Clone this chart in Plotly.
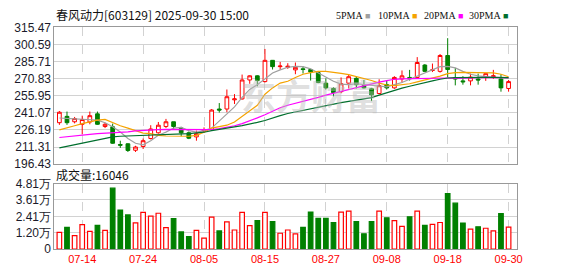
import plotly.graph_objects as go

dates = [
    "2025-07-09", "2025-07-10", "2025-07-11", "2025-07-14", "2025-07-15", "2025-07-16", "2025-07-17", "2025-07-18",
    "2025-07-21", "2025-07-22", "2025-07-23", "2025-07-24", "2025-07-25", "2025-07-28", "2025-07-29", "2025-07-30",
    "2025-07-31", "2025-08-01", "2025-08-04", "2025-08-05", "2025-08-06", "2025-08-07", "2025-08-08", "2025-08-11",
    "2025-08-12", "2025-08-13", "2025-08-14", "2025-08-15", "2025-08-18", "2025-08-19", "2025-08-20", "2025-08-21",
    "2025-08-22", "2025-08-25", "2025-08-26", "2025-08-27", "2025-08-28", "2025-08-29", "2025-09-01", "2025-09-02",
    "2025-09-03", "2025-09-04", "2025-09-05", "2025-09-08", "2025-09-09", "2025-09-10", "2025-09-11", "2025-09-12",
    "2025-09-15", "2025-09-16", "2025-09-17", "2025-09-18", "2025-09-19", "2025-09-22", "2025-09-23", "2025-09-24",
    "2025-09-25", "2025-09-26", "2025-09-29", "2025-09-30",
]

open_ = [232.5, 238.0, 233.3, 231.1, 233.1, 240.2, 229.2, 228.9, 213.5, 214.1,
         208.5, 211.8, 218.7, 223.7, 229.2, 233.3, 227.8, 223.7, 220.1, 225.4,
         226.5, 244.4, 244.4, 252.4, 253.2, 269.7, 273.3, 268.3, 286.8, 281.3,
         280.7, 278.5, 279.4, 278.8, 276.1, 266.9, 262.3, 259.5, 266.9, 271.1,
         264.7, 262.0, 257.9, 265.6, 262.8, 270.6, 271.9, 271.9, 282.7, 278.0,
         277.2, 291.0, 271.6, 268.9, 268.9, 270.6, 272.2, 272.5, 270.6, 262.3]
high = [242.7, 242.2, 237.5, 238.6, 242.2, 242.2, 232.5, 231.7, 216.8, 214.6,
        212.4, 218.7, 230.3, 233.1, 235.8, 233.3, 228.9, 224.8, 225.6, 228.4,
        244.4, 249.6, 261.4, 257.4, 274.4, 273.8, 273.8, 296.7, 287.1, 285.4,
        284.3, 284.9, 281.6, 279.4, 276.6, 271.1, 263.4, 271.9, 274.4, 273.0,
        269.7, 262.8, 270.3, 269.2, 273.0, 278.0, 278.5, 289.6, 283.5, 284.0,
        292.3, 306.1, 280.2, 273.0, 275.2, 275.2, 275.2, 278.5, 274.7, 269.7]
low = [230.6, 230.6, 231.9, 222.3, 231.1, 230.6, 227.8, 214.1, 210.5, 207.0,
       207.0, 209.6, 217.9, 222.9, 227.8, 227.0, 220.7, 218.2, 216.8, 223.7,
       225.6, 241.3, 241.6, 248.8, 252.6, 266.4, 264.2, 267.5, 278.8, 278.8,
       279.4, 274.7, 275.3, 269.2, 266.9, 261.5, 255.4, 258.1, 262.3, 262.3,
       262.3, 251.3, 257.3, 261.5, 262.0, 267.5, 269.2, 271.1, 276.6, 276.6,
       276.1, 271.9, 265.0, 265.6, 265.0, 265.6, 268.9, 270.6, 259.5, 259.5]
close = [241.6, 232.5, 236.1, 235.3, 238.6, 231.1, 231.1, 214.6, 212.9, 208.3,
         211.3, 216.8, 227.0, 230.3, 233.3, 229.2, 223.7, 219.0, 222.9, 226.2,
         243.5, 243.5, 255.1, 253.2, 269.7, 273.3, 269.2, 286.8, 281.3, 281.8,
         281.6, 280.7, 278.8, 276.6, 267.5, 262.8, 258.7, 266.4, 272.5, 265.6,
         262.8, 256.8, 264.7, 262.8, 271.9, 273.3, 270.8, 284.9, 277.2, 278.5,
         291.0, 278.8, 270.6, 268.1, 272.2, 269.7, 275.2, 273.3, 262.8, 268.3]

volume = [12300, 16000, 9800, 17900, 13000, 17400, 13700, 44700, 28600, 25100,
          19300, 27000, 24200, 26300, 15800, 22300, 12600, 9100, 13700, 8100,
          23500, 13300, 20000, 14000, 27000, 17200, 20900, 27000, 20200, 11600,
          14000, 11200, 16000, 27200, 22600, 22600, 19500, 27200, 27900, 20200,
          11200, 20200, 27900, 23000, 20900, 16700, 23700, 27900, 17400, 18100,
          19500, 40700, 33700, 19100, 14700, 16300, 15300, 13300, 26000, 16046]

ma5 = [236.6, 236.0, 235.8, 235.5, 235.3, 234.7, 232.5, 228.9, 224.3, 218.7,
       214.6, 213.2, 216.8, 221.5, 224.3, 227.8, 228.4, 225.6, 224.3, 225.6,
       227.8, 233.9, 240.8, 246.3, 254.6, 261.5, 265.6, 271.1, 275.8, 278.5,
       280.8, 281.6, 281.3, 279.4, 275.8, 271.9, 268.6, 266.1, 265.6, 266.4,
       265.6, 264.8, 264.2, 263.7, 265.6, 267.5, 270.3, 273.0, 276.3, 278.8,
       281.3, 281.6, 280.2, 277.2, 274.7, 273.3, 272.5, 271.9, 271.7, 271.1]
ma10 = [226.2, 227.8, 229.8, 231.7, 233.4, 234.7, 235.3, 232.5, 229.8, 227.8,
        225.6, 223.4, 222.9, 221.5, 220.9, 220.9, 220.7, 220.7, 221.5, 224.2,
        227.8, 228.9, 230.3, 233.1, 238.0, 242.2, 247.7, 257.3, 262.8, 267.0,
        268.6, 271.9, 274.7, 276.1, 277.2, 277.2, 276.6, 275.5, 274.4, 272.8,
        271.1, 269.2, 267.0, 265.3, 264.8, 265.3, 266.4, 268.1, 269.7, 271.4,
        273.0, 275.2, 276.1, 276.3, 276.3, 276.3, 276.1, 275.8, 274.7, 272.5]
ma20 = [219.6, 220.4, 220.9, 221.5, 222.3, 222.9, 223.2, 223.4, 223.7, 224.5,
        225.4, 225.9, 226.2, 226.5, 226.7, 226.7, 226.7, 226.7, 226.7, 226.5,
        226.5, 227.3, 228.4, 229.8, 231.7, 233.9, 236.7, 239.4, 242.7, 245.5,
        247.7, 249.3, 251.0, 252.9, 254.6, 256.5, 258.2, 259.8, 261.5, 263.1,
        264.8, 266.4, 267.8, 269.2, 270.3, 270.6, 270.8, 270.8, 271.1, 271.1,
        271.4, 271.4, 271.1, 271.1, 271.4, 271.7, 271.9, 271.9, 271.9, 271.7]
ma30 = [210.5, 211.8, 213.2, 214.6, 216.0, 217.4, 218.7, 220.1, 220.7, 220.9,
        221.2, 221.5, 221.5, 221.8, 222.0, 222.3, 222.6, 222.9, 223.7, 224.2,
        225.6, 226.5, 227.8, 228.9, 230.0, 231.1, 232.8, 234.4, 236.7, 238.6,
        240.5, 241.9, 243.3, 244.6, 246.0, 247.4, 248.8, 249.9, 251.0, 252.1,
        253.2, 254.3, 256.5, 258.7, 260.9, 262.6, 264.2, 265.9, 267.5, 268.9,
        270.3, 271.4, 271.7, 271.9, 271.9, 271.9, 271.9, 271.9, 271.9, 271.7]

price_ticks = [196.43, 211.31, 226.19, 241.07, 255.95, 270.83, 285.71, 300.59, 315.47]
vol_ticks = [0, 12025, 24050, 36075, 48100]
vol_tick_text = ["0", "1.20万", "2.41万", "3.61万", "4.81万"]
date_ticks = ["2025-07-14", "2025-07-24", "2025-08-05", "2025-08-15",
              "2025-08-27", "2025-09-08", "2025-09-18", "2025-09-30"]
date_tick_text = ["07-14", "07-24", "08-05", "08-15", "08-27", "09-08", "09-18", "09-30"]

title_text = "春风动力[603129] 2025-09-30 15:00"
volume_label = "成交量:16046"
watermark = "东方财富"
ma_names = ["5PMA", "10PMA", "20PMA", "30PMA"]
ma_colors = ["#a0a0a0", "#f5a300", "#ff00ff", "#006f2e"]

RED = "#ff0000"
GREEN = "#008000"
GRID = "#d2d2d2"
FRAME = "#999999"

W, H = 578, 276
L, R = 55, 522
P_TOP, P_BOT = 21.5, 165.5
V_TOP, V_BOT = 186, 255

fig = go.Figure()

fig.add_trace(go.Candlestick(
    x=dates, open=open_, high=high, low=low, close=close,
    increasing=dict(line=dict(color=RED, width=1), fillcolor="#ffffff"),
    decreasing=dict(line=dict(color=GREEN, width=1), fillcolor=GREEN),
    whiskerwidth=0, xaxis="x", yaxis="y", hoverinfo="skip",
))

for vals, name, col in zip([ma5, ma10, ma20, ma30], ma_names, ma_colors):
    fig.add_trace(go.Scatter(x=dates, y=vals, mode="lines", name=name,
                             line=dict(color=col, width=1.2),
                             xaxis="x", yaxis="y", hoverinfo="skip"))

up = [c >= o for o, c in zip(open_, close)]
fig.add_trace(go.Bar(
    x=dates, y=volume, width=0.6,
    marker=dict(color=["#ffffff" if u else GREEN for u in up],
                line=dict(color=[RED if u else GREEN for u in up], width=1.2)),
    xaxis="x2", yaxis="y2", hoverinfo="skip",
))

xdom = [L / W, R / W]
axis_common = dict(showline=True, mirror=True, linecolor=FRAME, linewidth=1,
                   zeroline=False, ticks="")
xr = [-0.65, 60.05]

fig.update_layout(
    width=W, height=H, margin=dict(l=0, r=0, t=0, b=0),
    paper_bgcolor="white", plot_bgcolor="white", showlegend=False,
    font=dict(family="Liberation Sans, Arial, sans-serif", size=12, color="#1a1a2a"),
    xaxis=dict(domain=xdom, anchor="y", type="category", range=xr,
               tickvals=date_ticks, showticklabels=False,
               showgrid=True, gridcolor=GRID, griddash="dash", gridwidth=1,
               rangeslider=dict(visible=False), **axis_common),
    yaxis=dict(domain=[1 - P_BOT / H, 1 - P_TOP / H], anchor="x",
               range=[price_ticks[0], price_ticks[-1]],
               tickvals=price_ticks, ticktext=[f"{v:.2f}" for v in price_ticks],
               showgrid=True, gridcolor=GRID, gridwidth=1,
               tickfont=dict(size=12), **axis_common),
    xaxis2=dict(domain=xdom, anchor="y2", type="category", range=xr,
                tickvals=date_ticks, ticktext=date_tick_text,
                tickfont=dict(color=RED, size=11),
                showgrid=True, gridcolor=GRID, griddash="dash", gridwidth=1,
                **axis_common),
    yaxis2=dict(domain=[1 - V_BOT / H, 1 - V_TOP / H], anchor="x2",
                range=[0, vol_ticks[-1]], tickvals=vol_ticks, ticktext=vol_tick_text,
                showgrid=True, gridcolor=GRID, gridwidth=1,
                tickfont=dict(size=12), **axis_common),
)

annotations = [
    dict(text=title_text, x=L / W, y=1 - 8 / H, xref="paper", yref="paper",
         xanchor="left", yanchor="middle", showarrow=False,
         font=dict(size=12, color="#111111", family="Noto Sans CJK SC, sans-serif")),
    dict(text=volume_label, x=L / W, y=1 - 176 / H, xref="paper", yref="paper",
         xanchor="left", yanchor="middle", showarrow=False,
         font=dict(size=12, color="#111111", family="Noto Sans CJK SC, sans-serif")),
    dict(text=f"<b>{watermark}</b>", x=314 / W, y=1 - 92 / H, xref="paper", yref="paper",
         xanchor="center", yanchor="middle", showarrow=False,
         font=dict(size=35, color="rgba(185,185,185,0.45)", family="Noto Sans CJK SC, sans-serif")),
]
legend_x = [338, 380, 426, 472]
for lx, name, col in zip(legend_x, ma_names, ma_colors):
    annotations.append(dict(
        text=f"{name}<span style='color:{col};font-size:9px'> ■</span>",
        x=lx / W, y=1 - 9 / H, xref="paper", yref="paper",
        xanchor="left", yanchor="middle", showarrow=False,
        font=dict(size=10, color="#111111", family="Liberation Serif, serif")))
fig.update_layout(annotations=annotations)

fig.write_html("out.html")
